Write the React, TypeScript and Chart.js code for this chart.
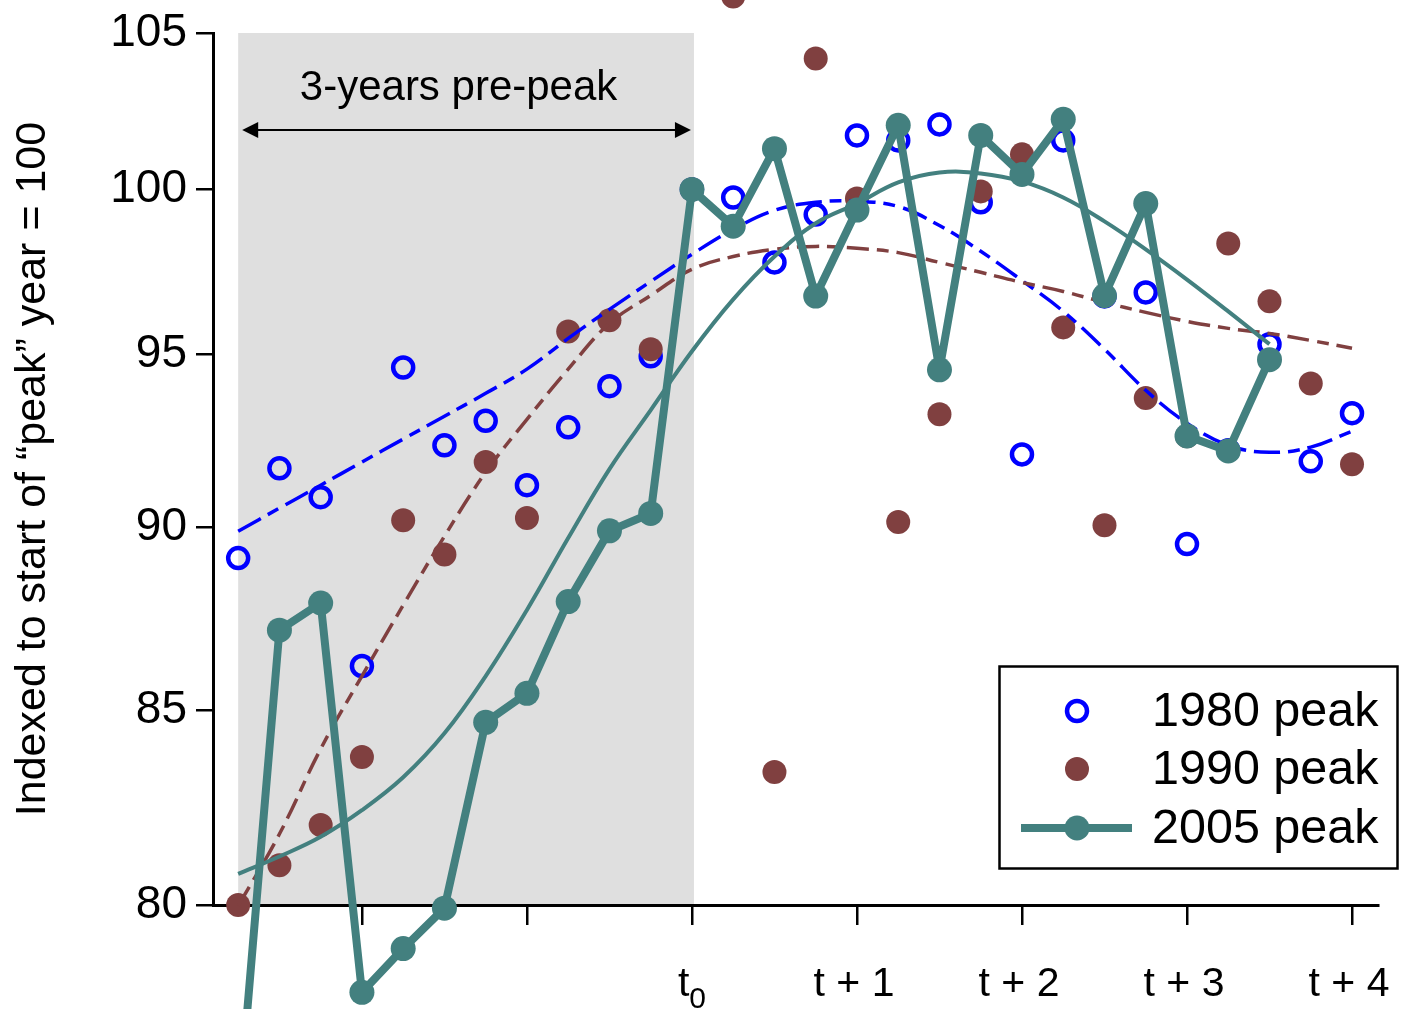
import React, { useEffect, useRef } from 'react';
import { Chart, registerables } from 'chart.js';

Chart.register(...registerables);

// ---------- data ----------
const QUARTERS = [-11, -10, -9, -8, -7, -6, -5, -4, -3, -2, -1, 0, 1, 2, 3, 4, 5, 6, 7, 8, 9, 10, 11, 12, 13, 14, 15, 16];

const PEAK_1980 = [89.14, 91.67, 90.85, 86.19, 94.60, 92.33, 93.04, 91.19, 92.85, 94.05, 94.93, 100, 99.75, 97.75, 99.22, 101.70, 101.54, 102.05, 99.60, 92.07, 101.54, 96.72, 96.84, 89.53, 92.19, 95.29, 91.87, 93.26];
const PEAK_1990 = [80.0, 81.00, 82.02, 83.78, 90.20, 89.24, 91.85, 90.26, 95.67, 96.00, 95.14, 100, 106.2, 83.39, 104.17, 99.72, 90.15, 93.23, 99.94, 101.10, 95.79, 90.06, 93.70, 92.59, 98.33, 96.57, 94.13, 91.79];
const PEAK_2005 = [74.85, 87.16, 87.90, 77.85, 78.92, 79.92, 84.69, 85.46, 87.94, 89.90, 90.39, 100, 98.86, 101.28, 96.73, 99.36, 102.02, 94.53, 101.70, 100.47, 102.21, 96.74, 99.56, 92.60, 92.17, 94.83];

const TREND_1980 = [89.89, 90.54, 91.19, 91.85, 92.51, 93.17, 93.84, 94.55, 95.46, 96.33, 97.17, 98.00, 98.76, 99.35, 99.60, 99.63, 99.47, 98.88, 98.09, 97.20, 96.27, 95.14, 93.93, 92.97, 92.33, 92.13, 92.28, 92.74];
const TREND_1990 = [79.98, 81.79, 83.99, 85.92, 87.84, 89.75, 91.56, 93.08, 94.55, 95.91, 96.75, 97.54, 97.93, 98.15, 98.24, 98.18, 98.05, 97.75, 97.45, 97.14, 96.87, 96.54, 96.24, 95.97, 95.76, 95.61, 95.40, 95.17];
const TREND_2005 = [80.78, 81.22, 81.72, 82.40, 83.25, 84.40, 85.92, 87.71, 89.70, 91.65, 93.35, 95.08, 96.63, 97.93, 98.95, 99.56, 100.22, 100.53, 100.50, 100.25, 99.75, 99.01, 98.15, 97.23, 96.27, 95.29];

const Y_TICKS = [80, 85, 90, 95, 100, 105];
const X_TICKS = [-8, -4, 0, 4, 8, 12, 16];
const X_TICK_LABELS = [['', ''], ['', ''], ['t', '0'], ['t + 1', ''], ['t + 2', ''], ['t + 3', ''], ['t + 4', '']];
const SHADE_RANGE = [-11, 0];
const SHADE_LABEL = '3-years pre-peak';
const Y_TITLE = 'Indexed to start of \u201Cpeak\u201D year = 100';
const SERIES_LABELS = ['1980 peak', '1990 peak', '2005 peak'];

// ---------- style ----------
const FONT = '"Liberation Sans", Arial, Helvetica, sans-serif';
const BLUE = '#0000FF';
const BROWN = '#804040';
const TEAL = '#43807F';
const SHADE = '#DFDFDF';

const pts = (ys: number[]) => ys.map((v, i) => ({ x: QUARTERS[i], y: v }));

const decorPlugin = {
  id: 'decor',
  beforeDraw(chart: any) {
    const { ctx } = chart;
    const x = chart.scales.x;
    const y = chart.scales.y;
    const x0 = x.getPixelForValue(SHADE_RANGE[0]);
    const x1 = x.getPixelForValue(SHADE_RANGE[1]);
    const yt = y.getPixelForValue(105);
    const yb = y.getPixelForValue(80);
    ctx.save();
    ctx.fillStyle = SHADE;
    ctx.fillRect(x0, yt, x1 - x0 + 2, yb - yt);
    ctx.restore();
  },
  beforeDatasetsDraw(chart: any) {
    chart.$savedArea = chart.chartArea;
    chart.chartArea = {
      left: -2000, top: -2000, right: chart.width + 2000, bottom: chart.height + 2000,
      width: chart.width + 4000, height: chart.height + 4000,
    };
  },
  afterDatasetsDraw(chart: any) {
    if (chart.$savedArea) chart.chartArea = chart.$savedArea;
  },
  afterDraw(chart: any) {
    const { ctx } = chart;
    const x = chart.scales.x;
    ctx.save();

    // arrow over shaded region
    const ax0 = x.getPixelForValue(SHADE_RANGE[0]) + 4;
    const ax1 = x.getPixelForValue(SHADE_RANGE[1]) - 1;
    const ay = 130;
    ctx.strokeStyle = '#000';
    ctx.fillStyle = '#000';
    ctx.lineWidth = 2;
    ctx.beginPath();
    ctx.moveTo(ax0 + 10, ay);
    ctx.lineTo(ax1 - 10, ay);
    ctx.stroke();
    ctx.beginPath();
    ctx.moveTo(ax0, ay);
    ctx.lineTo(ax0 + 16, ay - 8);
    ctx.lineTo(ax0 + 16, ay + 8);
    ctx.closePath();
    ctx.fill();
    ctx.beginPath();
    ctx.moveTo(ax1, ay);
    ctx.lineTo(ax1 - 16, ay - 8);
    ctx.lineTo(ax1 - 16, ay + 8);
    ctx.closePath();
    ctx.fill();

    ctx.font = `42px ${FONT}`;
    ctx.textAlign = 'center';
    ctx.textBaseline = 'alphabetic';
    ctx.fillText(SHADE_LABEL, (ax0 + ax1) / 2 - 8, 100);

    // x tick labels (with subscript support)
    const labelBase = 996;
    X_TICKS.forEach((v, i) => {
      const [main, sub] = X_TICK_LABELS[i];
      if (!main) return;
      const px = x.getPixelForValue(v);
      ctx.font = `41px ${FONT}`;
      const mw = ctx.measureText(main).width;
      let sw = 0;
      if (sub) {
        ctx.font = `30px ${FONT}`;
        sw = ctx.measureText(sub).width;
      }
      const start = px - (mw + sw) / 2 - (sub ? 0 : 3);
      ctx.textAlign = 'left';
      ctx.font = `41px ${FONT}`;
      ctx.fillText(main, start, labelBase);
      if (sub) {
        ctx.font = `30px ${FONT}`;
        ctx.fillText(sub, start + mw, labelBase + 12);
      }
    });

    // legend
    const bx = 999.5, by = 666.5, bw = 398, bh = 202;
    ctx.fillStyle = '#fff';
    ctx.fillRect(bx, by, bw, bh);
    ctx.strokeStyle = '#000';
    ctx.lineWidth = 2.5;
    ctx.strokeRect(bx, by, bw, bh);
    const mx = 1077;
    const rows = [711, 769, 828];
    // 1980
    ctx.beginPath();
    ctx.arc(mx, rows[0], 10, 0, Math.PI * 2);
    ctx.strokeStyle = BLUE;
    ctx.lineWidth = 4.5;
    ctx.stroke();
    // 1990
    ctx.beginPath();
    ctx.arc(mx, rows[1], 12, 0, Math.PI * 2);
    ctx.fillStyle = BROWN;
    ctx.fill();
    // 2005
    ctx.beginPath();
    ctx.moveTo(1021, rows[2]);
    ctx.lineTo(1132, rows[2]);
    ctx.strokeStyle = TEAL;
    ctx.lineWidth = 8;
    ctx.stroke();
    ctx.beginPath();
    ctx.arc(mx, rows[2], 12.5, 0, Math.PI * 2);
    ctx.fillStyle = TEAL;
    ctx.fill();

    ctx.fillStyle = '#000';
    ctx.font = `48.5px ${FONT}`;
    ctx.textAlign = 'left';
    ctx.textBaseline = 'middle';
    SERIES_LABELS.forEach((t, i) => ctx.fillText(t, 1152, rows[i] + 2));

    ctx.restore();
  },
};

export default function App() {
  const canvasRef = useRef<HTMLCanvasElement | null>(null);

  useEffect(() => {
    const canvas = canvasRef.current;
    if (!canvas) return;
    const chart = new Chart(canvas, {
      type: 'scatter',
      data: {
        datasets: [
          {
            label: SERIES_LABELS[2],
            data: pts(PEAK_2005),
            showLine: true,
            borderColor: TEAL,
            backgroundColor: TEAL,
            borderWidth: 8,
            borderJoinStyle: 'round',
            borderCapStyle: 'round',
            pointRadius: 12.5,
            pointBackgroundColor: TEAL,
            pointBorderWidth: 0,
            tension: 0,
            order: 0,
            clip: false,
          } as any,
          {
            label: '2005 trend',
            data: pts(TREND_2005),
            showLine: true,
            borderColor: TEAL,
            borderWidth: 4,
            pointRadius: 0,
            tension: 0.4,
            order: 1,
            clip: false,
          },
          {
            label: '1990 trend',
            data: pts(TREND_1990),
            showLine: true,
            borderColor: BROWN,
            borderWidth: 3.5,
            borderDash: [22, 8, 12, 8],
            pointRadius: 0,
            tension: 0.4,
            order: 2,
            clip: false,
          },
          {
            label: '1980 trend',
            data: pts(TREND_1980),
            showLine: true,
            borderColor: BLUE,
            borderWidth: 3.5,
            borderDash: [26, 8, 12, 8],
            pointRadius: 0,
            tension: 0.4,
            order: 3,
            clip: false,
          },
          {
            label: SERIES_LABELS[1],
            data: pts(PEAK_1990),
            showLine: false,
            pointRadius: 12,
            pointBackgroundColor: BROWN,
            pointBorderWidth: 0,
            order: 4,
            clip: false,
          },
          {
            label: SERIES_LABELS[0],
            data: pts(PEAK_1980),
            showLine: false,
            pointRadius: 10,
            pointBackgroundColor: 'rgba(0,0,0,0)',
            pointBorderColor: BLUE,
            pointBorderWidth: 4.5,
            order: 5,
            clip: false,
          },
        ] as any,
      },
      options: {
        animation: false,
        responsive: false,
        devicePixelRatio: 1,
        events: [],
        layout: { padding: { left: 0, right: 25, top: 33, bottom: 0 } },
        plugins: {
          legend: { display: false },
          tooltip: { enabled: false },
        },
        scales: {
          x: {
            type: 'linear',
            min: -11.61,
            max: 16.63,
            afterBuildTicks: (s: any) => {
              s.ticks = X_TICKS.map((v) => ({ value: v }));
            },
            afterFit: (s: any) => {
              s.height = 104;
              s.paddingLeft = 0;
              s.paddingRight = 0;
            },
            grid: { drawOnChartArea: false, drawTicks: true, tickLength: 20, color: '#000', lineWidth: 2.5 },
            border: { display: true, color: '#000', width: 3 },
            ticks: { display: false },
          },
          y: {
            type: 'logarithmic',
            min: 80,
            max: 105,
            afterBuildTicks: (s: any) => {
              s.ticks = Y_TICKS.map((v) => ({ value: v }));
            },
            afterFit: (s: any) => {
              s.width = 213;
              s.paddingTop = 0;
              s.paddingBottom = 0;
            },
            grid: { drawOnChartArea: false, drawTicks: true, tickLength: 17, color: '#000', lineWidth: 2.5 },
            border: { display: true, color: '#000', width: 3 },
            ticks: {
              callback: (v: any) => String(v),
              color: '#000',
              font: { family: FONT, size: 46 },
              padding: 9,
            },
            title: {
              display: true,
              text: Y_TITLE,
              color: '#000',
              font: { family: FONT, size: 43 },
              padding: { top: 7, bottom: 0 },
            },
          },
        },
      } as any,
      plugins: [decorPlugin],
    });
    return () => chart.destroy();
  }, []);

  return (
    <div style={{ position: 'fixed', left: 0, top: 0, width: 1403, height: 1009, background: '#fff' }}>
      <canvas ref={canvasRef} width={1403} height={1009} style={{ display: 'block' }} />
    </div>
  );
}
